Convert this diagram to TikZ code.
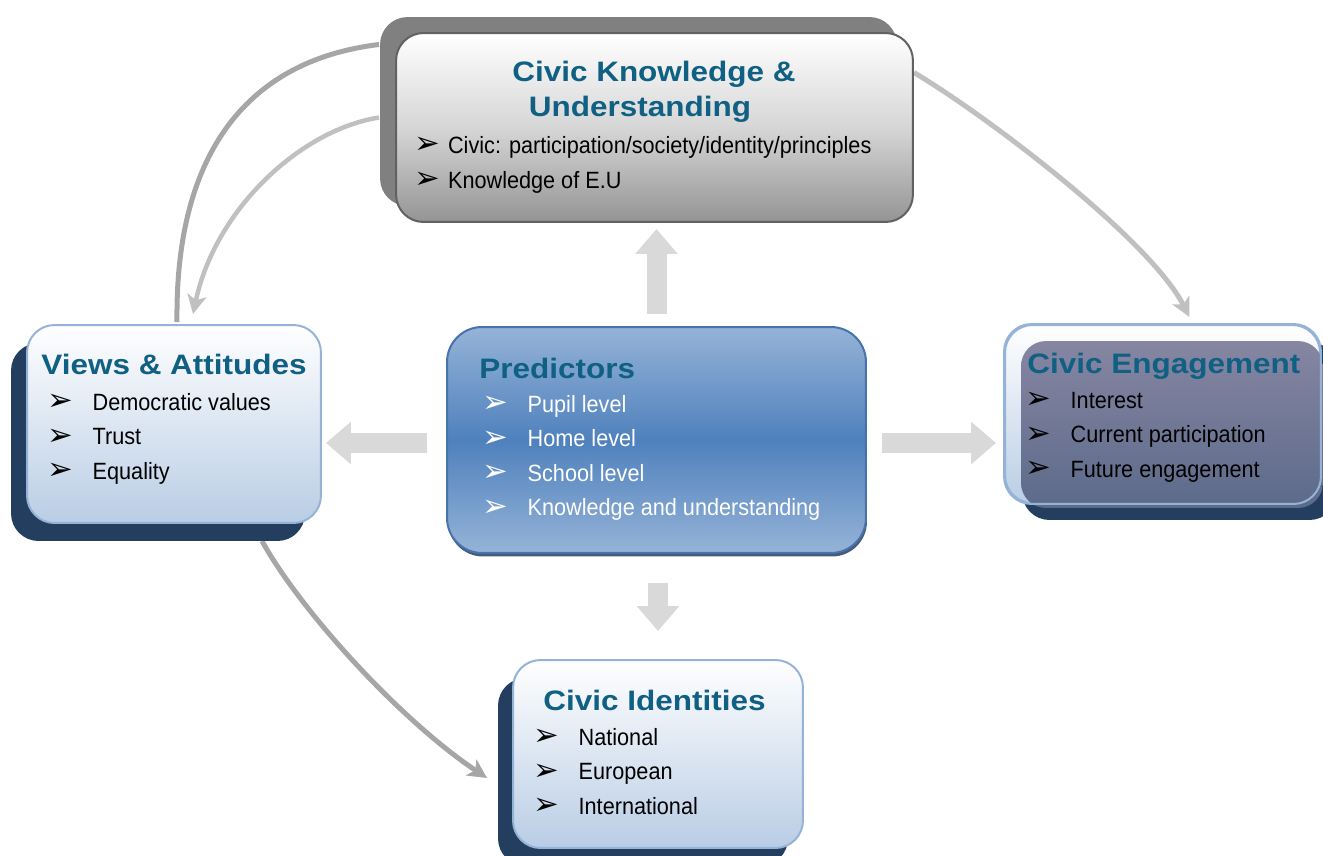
\documentclass[tikz,border=0pt]{standalone}
\usepackage{fontspec}
\setmainfont{Liberation Sans}
\newfontfamily\headfont[FakeStretch=1.12]{Liberation Sans}
\newfontfamily\bodyfont[FakeStretch=0.92]{Liberation Sans}
\newfontfamily\dingfont{DejaVu Sans}
\usetikzlibrary{arrows.meta,shadows,backgrounds}

\definecolor{headblue}{RGB}{15,96,130}
\definecolor{navy}{RGB}{36,62,96}
\definecolor{paleblue}{RGB}{185,205,229}
\definecolor{rimblue}{RGB}{149,179,215}
\definecolor{midblue}{RGB}{79,129,189}
\definecolor{darkrim}{RGB}{70,115,172}
\definecolor{slatetop}{RGB}{134,134,162}
\definecolor{slatebot}{RGB}{92,106,138}
\definecolor{arrowgray}{RGB}{217,217,217}
\definecolor{curvedark}{RGB}{166,166,166}
\definecolor{curvelight}{RGB}{192,192,192}

\newcommand\itm[2][25.8pt]{\makebox[#1][l]{\dingfont\fontsize{17.5}{18}\selectfont\raisebox{-0.5pt}{➢}}#2}

\tikzset{
  card/.style={rounded corners=0.55cm, line width=0.04cm, inner sep=0},
  lightcard/.style={card, draw=rimblue, top color=white, bottom color=paleblue},
  cardhead/.style={inner sep=0, anchor=base west, text=headblue, font=\headfont\bfseries\fontsize{16}{19}\selectfont},
  carditem/.style={inner sep=0, anchor=base west, font=\bodyfont\fontsize{13.4}{16}\selectfont},
  fat/.style={draw=arrowgray, line width=0.4cm, -{Triangle[length=0.5cm,width=0.82cm]}},
  loopline/.style={line width=0.1cm, -{Stealth[length=0.38cm,width=0.38cm,inset=0.1cm]}}
}

\begin{document}
\begin{tikzpicture}[x=0.02cm, y=-0.02cm, line join=round]
	\useasboundingbox (0,0) rectangle (1323,856);
	% boxes
	\node[card, draw=black!62, top color=white, bottom color=black!42, middle color=black!16, general shadow={fill=black!50, shadow xshift=-0.32cm, shadow yshift=0.32cm}, minimum width=10.34cm, minimum height=3.78cm] (know) at (654.5,127.5) {};
	\node[lightcard, general shadow={fill=navy, shadow xshift=-0.32cm, shadow yshift=-0.36cm}, minimum width=5.88cm, minimum height=3.96cm] (views) at (174,424) {};
	\node[card, rounded corners=0.7cm, draw=darkrim, top color=rimblue, bottom color=rimblue, middle color=midblue, general shadow={fill=navy!85, shadow xshift=0.02cm, shadow yshift=-0.07cm}, minimum width=8.38cm, minimum height=4.52cm] (pred) at (656.5,440) {};
	\node[lightcard, general shadow={fill=navy, shadow xshift=0.34cm, shadow yshift=-0.34cm}, minimum width=6.3cm, minimum height=3.56cm] (eng) at (1162.5,414) {};
	\node[lightcard, general shadow={fill=navy, shadow xshift=-0.3cm, shadow yshift=-0.36cm}, minimum width=5.8cm, minimum height=3.76cm] (ident) at (658,754) {};
	% dark face over the engagement box
	\path[top color=slatetop, bottom color=slatebot, rounded corners=0.5cm] ([shift={(17,17)}]eng.north west) rectangle ([shift={(2,4)}]eng.south east);
	\draw[rimblue, line width=0.04cm, rounded corners=0.55cm] (eng.north west) rectangle (eng.south east);

	% texts
	\node[cardhead, anchor=base] (know-h1) at (654,81) {Civic Knowledge \&};
	\node[cardhead, anchor=base] (know-h2) at (640,116) {Understanding};
	\node[carditem] (know-1) at (414,153) {\itm[19.2pt]{Civic: participation/society/identity/principles}};
	\node[carditem] (know-2) at (414,188) {\itm[19.2pt]{Knowledge of E.U}};

	\node[cardhead] (views-h) at (41,374) {Views \& Attitudes};
	\foreach \t [count=\i] in {Democratic values, Trust, Equality}
		\node[carditem] (views-\i) at (47,375.5+34.5*\i) {\itm{\t}};

	\node[cardhead] (pred-h) at (479,378) {Predictors};
	\foreach \t [count=\i] in {Pupil level, Home level, School level, Knowledge and understanding}
		\node[carditem, text=white] (pred-\i) at (482,377.5+34.5*\i) {\itm{\t}};

	\node[cardhead] (eng-h) at (1027,373) {Civic Engagement};
	\foreach \t [count=\i] in {Interest, Current participation, Future engagement}
		\node[carditem] (eng-\i) at (1025,373.5+34.5*\i) {\itm{\t}};

	\node[cardhead] (ident-h) at (543,710) {Civic Identities};
	\foreach \t [count=\i] in {National, European, International}
		\node[carditem] (ident-\i) at (533,710.5+34.5*\i) {\itm{\t}};

	% block arrows out of the predictors
	\coordinate (mid) at (0,443);
	\draw[fat, shorten <=0.24cm, shorten >=0.12cm] (pred.north) -- (pred.north |- know.south);
	\draw[fat, shorten <=0.38cm, shorten >=0.08cm] (pred.west |- mid) -- (views.east |- mid);
	\draw[fat, shorten <=0.3cm, shorten >=0.16cm] (pred.east |- mid) -- (eng.west |- mid);
	\draw[fat, shorten <=0.58cm, shorten >=0.56cm] (ident.north |- pred.south) -- (ident.north);

	% curved links
	\begin{scope}[on background layer]
	\draw[loopline, -, curvedark] ([shift={(3,-2)}]views.north) .. controls (175,150) and (250,60) .. ([shift={(-16,-83)}]know.west);
	\draw[loopline, curvelight, line width=0.09cm] ([shift={(-16,-10)}]know.west) .. controls (300,130) and (215,210) .. ([shift={(19,-10)}]views.north);
	\draw[loopline, curvelight] ([shift={(0,-55)}]know.east) .. controls (990,118) and (1150,240) .. ([shift={(27,-7)}]eng.north);
	\draw[loopline, curvedark] ([shift={(88,17)}]views.south) .. controls (300,610) and (400,720) .. ([shift={(-25,24)}]ident.west);
	\end{scope}
\end{tikzpicture}
\end{document}
